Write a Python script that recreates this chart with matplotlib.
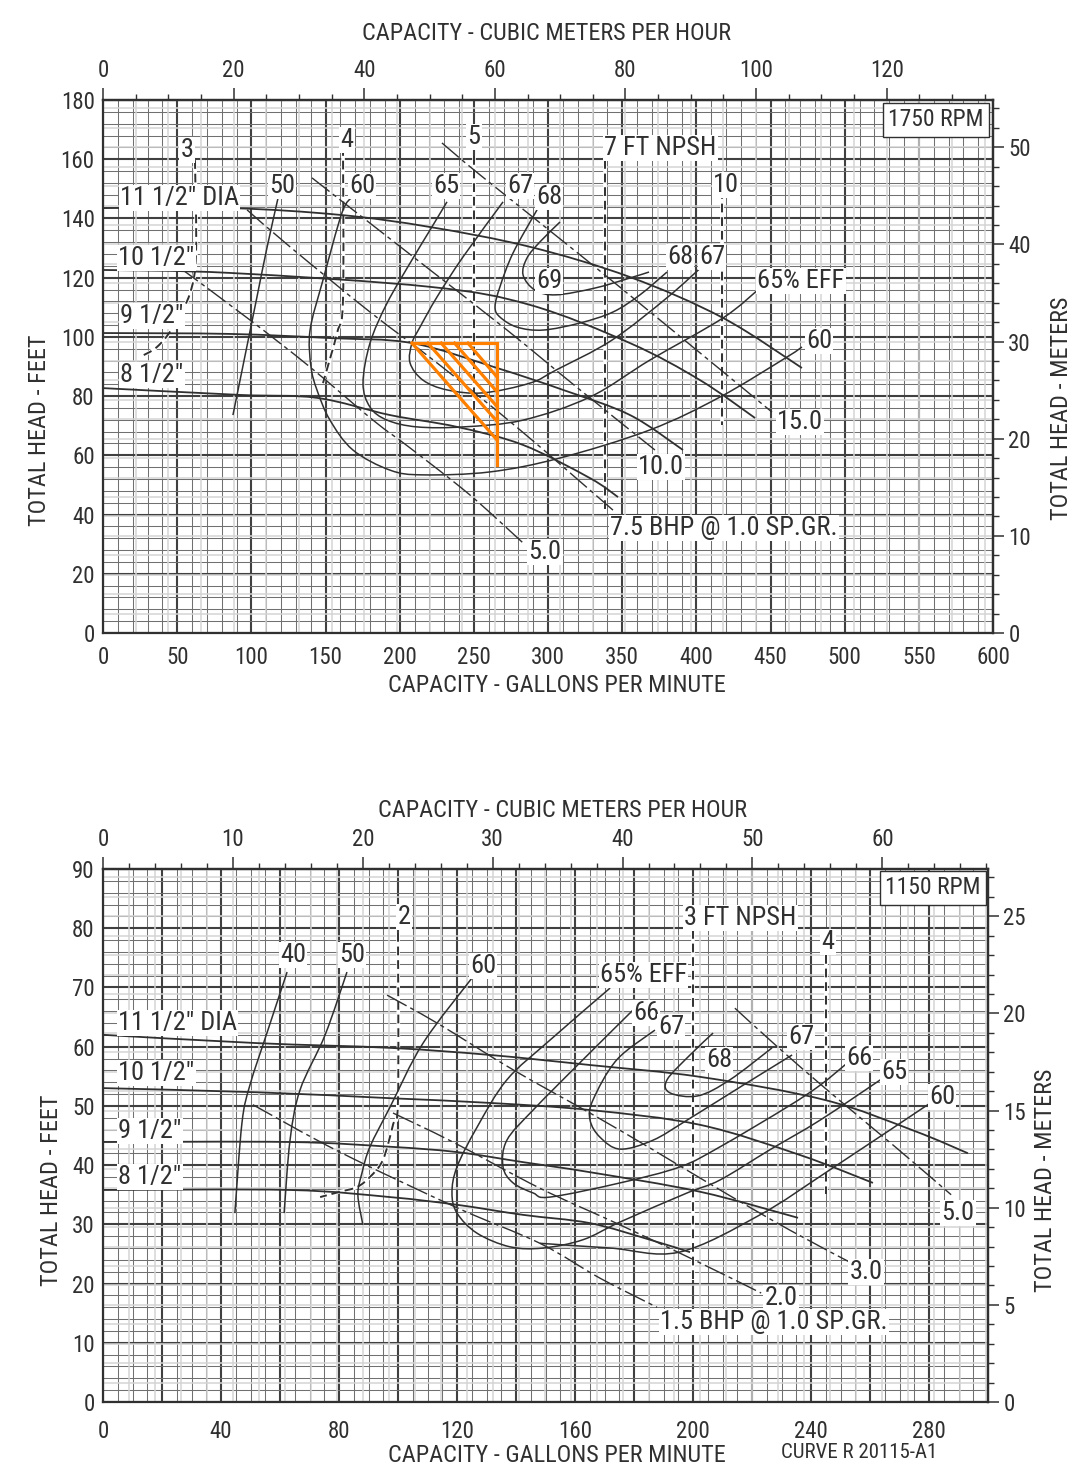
import numpy as np
import matplotlib
matplotlib.use("Agg")
import matplotlib.pyplot as plt
from matplotlib.path import Path
from matplotlib.patches import PathPatch
from matplotlib.ticker import MultipleLocator, FixedLocator, FuncFormatter

plt.rcParams['font.family'] = ['Roboto Condensed', 'Liberation Sans Narrow',
                               'DejaVu Sans Condensed', 'Roboto', 'DejaVu Sans']

INK = '#303030'
ORANGE = '#ff8000'
GPM_PER_M3H = 4.4029
FT_PER_M = 3.2808
W, H = 1085, 1471

# ================= 1750 RPM (top chart) =================
top_rpm = "1750 RPM"
top_x_labels = [0, 50, 100, 150, 200, 250, 300, 350, 400, 450, 500, 550, 600]
top_m3h_labels = [0, 20, 40, 60, 80, 100, 120]
top_m_labels = [0, 10, 20, 30, 40, 50]
# impeller diameter curves (capacity gpm, head ft)
top_d115_q = [0, 85.6, 159.8, 220.5, 287.9, 355.3, 418.0, 471.2]
top_d115_h = [143.5, 143.5, 141.2, 137.1, 130.4, 120.2, 106.4, 89.5]
top_d105_q = [0, 85.6, 220.5, 287.9, 355.3, 402.5, 439.6]
top_d105_h = [122.6, 121.6, 116.9, 110.8, 97.9, 85.4, 72.6]
top_d95_q = [0, 85.6, 153.0, 208.3, 265.6, 310.1, 355.3, 391.0]
top_d95_h = [101.3, 101.0, 99.6, 97.9, 89.5, 82.1, 73.6, 61.8]
top_d85_q = [0, 92.4, 144.3, 193.5, 238.7, 283.2, 328.3, 347.2]
top_d85_h = [82.7, 80.4, 79.4, 73.6, 69.6, 63.5, 52.3, 45.9]
# efficiency curves
top_e50_q = [118.0, 110.5, 103.8, 92.4, 87.6]
top_e50_h = [146.9, 130.0, 113.5, 85.4, 73.6]
top_e60_q = [167.9, 161.1, 148.3, 139.6, 140.2, 144.3, 153.0, 168.5, 193.5, 215.7, 260.9, 308.1, 368.8, 416.0, 461.1, 471.2]
top_e60_h = [147.2, 141.9, 119.2, 102.3, 90.0, 82.0, 71.9, 61.8, 55.0, 53.4, 54.4, 59.1, 68.6, 79.7, 93.2, 96.6]
top_e65_q = [231.9, 220.5, 208.3, 191.5, 180.0, 175.3, 180.0, 191.5, 211.7, 242.7, 283.2, 328.3, 368.8, 418.0, 442.9]
top_e65_h = [145.6, 136.1, 126.0, 111.4, 97.9, 84.4, 76.3, 71.9, 69.6, 69.6, 71.9, 79.7, 92.2, 106.4, 116.5]
top_e67_q = [269.7, 242.7, 225.2, 213.7, 208.3, 207.0, 215.7, 231.9, 256.2, 287.9, 305.4, 343.1, 380.9, 407.2]
top_e67_h = [145.6, 127.0, 113.5, 103.3, 97.9, 91.2, 85.4, 82.1, 81.1, 84.4, 88.8, 98.9, 113.5, 125.3]
top_e68_q = [292.6, 276.4, 267.6, 264.3, 267.6, 279.1, 296.6, 321.6, 343.8, 362.0, 380.2]
top_e68_h = [142.9, 128.3, 116.9, 110.1, 106.7, 103.3, 102.3, 104.7, 108.4, 114.2, 121.9]
top_e69_q = [308.1, 294.6, 285.8, 283.2, 291.2, 305.4, 331.7, 355.3, 368.1]
top_e69_h = [138.8, 132.1, 126.6, 120.9, 115.8, 114.2, 116.5, 119.9, 121.9]
# NPSH required lines
top_n3_q = [62.0, 62.7, 58.7, 47.2, 36.4, 24.9]
top_n3_h = [159.7, 128.3, 114.8, 103.3, 96.6, 93.2]
top_n4_q = [161.8, 161.8, 157.8, 148.3]
top_n4_h = [164.1, 112.5, 101.3, 84.4]
top_n5_q = [250.0, 250.0]
top_n5_h = [161.0, 68.0]
top_n7_q = [338.4, 338.4]
top_n7_h = [159.7, 42.0]
top_n10_q = [417.3, 417.3]
top_n10_h = [149.6, 70.2]
# brake horsepower lines
top_b5_q = [51.9, 99.1, 139.6, 182.0, 207.0, 247.4, 283.2]
top_b5_h = [123.3, 105.7, 89.8, 71.9, 62.5, 46.6, 30.4]
top_b75_q = [97.1, 126.1, 180.0, 225.2, 281.1, 343.8]
top_b75_h = [142.9, 130.4, 108.4, 91.2, 68.6, 41.5]
top_b10_q = [140.9, 168.5, 220.5, 272.4, 321.6, 372.1]
top_b10_h = [153.7, 142.9, 122.6, 102.3, 82.1, 61.8]
top_b15_q = [228.5, 254.2, 321.6, 375.5, 451.0]
top_b15_h = [165.5, 154.7, 127.7, 105.7, 74.6]
# orange highlighted operating region
tri_q = [208.3, 265.6, 265.6, 208.3]
tri_h = [97.9, 97.9, 56.7, 97.9]
tri_hyp_end_h = 65.2
hatch_start_q = [219.0, 228.0, 237.0, 246.0]
hatch_end_h = [71.5, 76.5, 81.5, 86.5]

# ================= 1150 RPM (bottom chart) =================
bot_rpm = "1150 RPM"
bot_x_labels = [0, 40, 80, 120, 160, 200, 240, 280]
bot_m3h_labels = [0, 10, 20, 30, 40, 50, 60]
bot_m_labels = [0, 5, 10, 15, 20, 25]
bot_d115_q = [0, 52.2, 97.3, 131.2, 165.1, 202.4, 244.7, 274.9, 293.2]
bot_d115_h = [62.0, 60.6, 59.8, 58.6, 56.9, 54.9, 51.0, 45.8, 42.0]
bot_d105_q = [0, 52.2, 97.3, 131.2, 165.1, 202.4, 236.3, 261.0]
bot_d105_h = [53.0, 52.3, 51.3, 50.5, 49.3, 46.8, 41.7, 37.0]
bot_d95_q = [0, 63.4, 97.3, 120.0, 142.4, 165.1, 202.4, 235.6]
bot_d95_h = [43.9, 43.9, 43.1, 42.2, 40.5, 38.8, 35.5, 31.1]
bot_d85_q = [0, 63.4, 97.3, 120.0, 142.4, 165.1, 185.4, 199.0]
bot_d85_h = [35.8, 35.8, 34.6, 33.3, 31.6, 30.2, 27.4, 25.3]
bot_e40_q = [62.4, 55.9, 49.8, 47.1, 44.7]
bot_e40_h = [72.6, 62.8, 53.5, 47.1, 31.9]
bot_e50_q = [82.7, 75.3, 66.8, 63.4, 61.4]
bot_e50_h = [72.6, 62.0, 52.7, 44.2, 31.9]
bot_e60a_q = [125.4, 108.5, 97.3, 90.5, 87.8, 86.4, 88.1]
bot_e60a_h = [71.8, 60.6, 49.8, 43.1, 38.7, 35.0, 29.9]
bot_e60b_q = [148.1, 171.9, 195.3, 222.7, 246.4, 282.0]
bot_e60b_h = [26.8, 26.0, 25.3, 31.6, 39.2, 51.0]
bot_e65_q = [171.9, 151.5, 136.9, 126.8, 120.0, 118.3, 120.0, 126.8, 138.0, 149.2, 162.7, 175.3, 198.0, 209.2, 226.1, 243.1, 264.4]
bot_e65_h = [69.9, 61.1, 54.4, 46.4, 39.7, 35.3, 31.9, 28.5, 26.2, 26.0, 27.4, 30.4, 35.3, 37.5, 42.6, 47.6, 54.7]
bot_e66_q = [179.7, 162.7, 145.8, 136.9, 135.6, 139.0, 145.8, 151.5, 175.3, 195.6, 209.2, 231.9, 243.1, 252.2]
bot_e66_h = [66.2, 57.8, 49.3, 44.2, 39.7, 37.0, 35.3, 34.6, 37.0, 39.7, 43.1, 49.8, 53.5, 57.2]
bot_e67_q = [187.1, 174.2, 166.1, 165.1, 168.5, 175.3, 186.4, 198.0, 218.3, 233.6]
bot_e67_h = [62.8, 57.8, 51.0, 47.6, 44.7, 42.7, 44.2, 47.6, 53.9, 58.6]
bot_e68_q = [206.8, 199.0, 191.2, 192.2, 201.7, 212.5, 226.8]
bot_e68_h = [62.3, 58.6, 54.4, 52.2, 51.7, 54.4, 59.8]
bot_n2_q = [100.0, 100.0, 98.3, 94.9, 90.5, 86.1, 80.3, 73.6]
bot_n2_h = [79.2, 51.0, 46.8, 40.9, 38.0, 36.3, 35.5, 34.6]
bot_n3_q = [200.0, 200.0]
bot_n3_h = [79.7, 20.6]
bot_n4_q = [245.0, 245.0]
bot_n4_h = [75.5, 35.1]
bot_b15_q = [50.8, 80.3, 120.0, 148.1, 168.5, 187.8]
bot_b15_h = [50.2, 42.2, 32.8, 26.8, 20.9, 16.0]
bot_b20_q = [98.3, 118.6, 148.1, 175.3, 200.3, 223.1]
bot_b20_h = [48.8, 43.9, 36.1, 29.9, 24.0, 18.4]
bot_b30_q = [96.3, 113.2, 139.0, 166.1, 186.4, 209.2, 232.9, 253.2]
bot_b30_h = [68.7, 64.0, 56.1, 48.5, 42.6, 35.8, 29.0, 23.6]
bot_b50_q = [214.2, 228.8, 246.4, 268.5, 287.5]
bot_b50_h = [66.5, 59.9, 52.3, 43.1, 35.0]


def fxy(x, y):
    return x / W, 1 - y / H


def smooth_path(xs, ys):
    pts = np.column_stack([xs, ys]).astype(float)
    n = len(pts)
    verts = [pts[0]]
    codes = [Path.MOVETO]
    if n == 2:
        verts.append(pts[1]); codes.append(Path.LINETO)
        return Path(verts, codes)
    for i in range(n - 1):
        p0 = pts[i - 1] if i > 0 else pts[i]
        p1, p2 = pts[i], pts[i + 1]
        p3 = pts[i + 2] if i + 2 < n else pts[i + 1]
        verts += [p1 + (p2 - p0) / 6.0, p2 - (p3 - p1) / 6.0, p2]
        codes += [Path.CURVE4] * 3
    return Path(verts, codes)


def curve(ax, q, h, lw=1.1, ls='-', color=INK, z=3):
    ax.add_patch(PathPatch(smooth_path(q, h), fill=False, lw=lw, ls=ls,
                           edgecolor=color, zorder=z, capstyle='butt'))


def npsh(ax, q, h):
    ax.add_patch(PathPatch(smooth_path(q, h), fill=False, lw=2.6,
                           edgecolor='white', zorder=2.5))
    curve(ax, q, h, lw=1.4, ls=(0, (4.5, 2.5)), z=3)


def bhp(ax, q, h):
    curve(ax, q, h, lw=1.0, ls=(0, (16, 3, 3, 3)), z=3)


def label(x, y, s, size=19, ha='center', box=True):
    kw = dict(fontsize=size, color=INK, ha=ha, va='center', zorder=10)
    if box:
        kw['bbox'] = dict(boxstyle='square,pad=0.05', fc='white', ec='none')
    fig.text(*fxy(x, y), s, **kw)


TICK = 16.5


def setup_axes(rect, xmax, ymax, xmaj, xmin, ymaj, ymin, xlabels,
               m3_labels, m3_min, m_labels, m_min, light_m3, light_m, xpad):
    ax = fig.add_axes(rect)
    ax.set_xlim(0, xmax)
    ax.set_ylim(0, ymax)
    ax.xaxis.set_major_locator(MultipleLocator(xmaj))
    ax.xaxis.set_minor_locator(MultipleLocator(xmin))
    ax.yaxis.set_major_locator(MultipleLocator(ymaj))
    ax.yaxis.set_minor_locator(MultipleLocator(ymin))
    ax.xaxis.set_major_formatter(FuncFormatter(
        lambda v, p: f"{v:.0f}" if round(v) in xlabels else ""))
    ax.grid(which='minor', color='#707070', lw=0.75, zorder=1)
    ax.grid(which='major', color='#404040', lw=1.5, zorder=1.2)
    ax.set_axisbelow(True)
    # faint metric grid
    for v in np.arange(light_m3, xmax / GPM_PER_M3H, light_m3):
        ax.axvline(v * GPM_PER_M3H, color='#d4d4d4', lw=1.1, zorder=0.9)
    for v in np.arange(light_m, ymax / FT_PER_M, light_m):
        ax.axhline(v * FT_PER_M, color='#d4d4d4', lw=1.1, zorder=0.9)
    ax.tick_params(which='both', length=0, labelsize=TICK, colors=INK)
    ax.tick_params(axis='x', pad=xpad)
    ax.tick_params(axis='y', pad=6)
    for sp in ax.spines.values():
        sp.set_color(INK)
        sp.set_linewidth(1.6)
    top = ax.secondary_xaxis('top', functions=(lambda q: q / GPM_PER_M3H,
                                               lambda m: m * GPM_PER_M3H))
    top.xaxis.set_major_locator(FixedLocator(m3_labels))
    top.xaxis.set_minor_locator(FixedLocator(
        list(np.arange(0, xmax / GPM_PER_M3H, m3_min))))
    top.tick_params(which='major', length=9, width=1.1, colors=INK, labelsize=TICK, pad=4)
    top.tick_params(which='minor', length=4.5, width=1.0, colors=INK)
    right = ax.secondary_yaxis('right', functions=(lambda f: f / FT_PER_M,
                                                   lambda m: m * FT_PER_M))
    right.yaxis.set_major_locator(FixedLocator(m_labels))
    right.yaxis.set_minor_locator(FixedLocator(
        list(np.arange(0, ymax / FT_PER_M, m_min))))
    right.tick_params(which='major', length=8, width=1.1, colors=INK, labelsize=TICK, pad=3)
    right.tick_params(which='minor', length=4.5, width=1.0, colors=INK)
    for s in (top, right):
        for sp in s.spines.values():
            sp.set_color(INK)
            sp.set_linewidth(1.6)
    return ax


fig = plt.figure(figsize=(W / 100, H / 100), dpi=100, facecolor='white')

# ---------------- top chart ----------------
axT = setup_axes([103 / W, 1 - 633 / H, 890 / W, 533 / H], 600, 180, 50, 10, 20, 4,
                 top_x_labels, top_m3h_labels, 5, top_m_labels, 2, 5, 2, xpad=9)
for q, h in [(top_d115_q, top_d115_h), (top_d105_q, top_d105_h),
             (top_d95_q, top_d95_h), (top_d85_q, top_d85_h)]:
    curve(axT, q, h, lw=1.3)
for q, h in [(top_e50_q, top_e50_h), (top_e60_q, top_e60_h), (top_e65_q, top_e65_h),
             (top_e67_q, top_e67_h), (top_e68_q, top_e68_h), (top_e69_q, top_e69_h)]:
    curve(axT, q, h, lw=1.1)
for q, h in [(top_n3_q, top_n3_h), (top_n4_q, top_n4_h), (top_n5_q, top_n5_h),
             (top_n7_q, top_n7_h), (top_n10_q, top_n10_h)]:
    npsh(axT, q, h)
for q, h in [(top_b5_q, top_b5_h), (top_b75_q, top_b75_h),
             (top_b10_q, top_b10_h), (top_b15_q, top_b15_h)]:
    bhp(axT, q, h)
# orange region
axT.plot(tri_q[:3], tri_h[:3], color=ORANGE, lw=2.3, zorder=6, solid_joinstyle='miter')
axT.plot([tri_q[0], tri_q[1]], [tri_h[0], tri_hyp_end_h], color=ORANGE, lw=2.3, zorder=6)
for qs, he in zip(hatch_start_q, hatch_end_h):
    axT.plot([qs, tri_q[1]], [tri_h[0], he], color=ORANGE, lw=2.3, zorder=6)

# ---------------- bottom chart ----------------
axB = setup_axes([103 / W, 1 - 1402 / H, 885 / W, 533 / H], 300, 90, 20, 5, 10, 2,
                 bot_x_labels, bot_m3h_labels, 2, bot_m_labels, 1, 2, 1, xpad=13)
for q, h in [(bot_d115_q, bot_d115_h), (bot_d105_q, bot_d105_h),
             (bot_d95_q, bot_d95_h), (bot_d85_q, bot_d85_h)]:
    curve(axB, q, h, lw=1.3)
for q, h in [(bot_e40_q, bot_e40_h), (bot_e50_q, bot_e50_h), (bot_e60a_q, bot_e60a_h),
             (bot_e60b_q, bot_e60b_h), (bot_e65_q, bot_e65_h), (bot_e66_q, bot_e66_h),
             (bot_e67_q, bot_e67_h), (bot_e68_q, bot_e68_h)]:
    curve(axB, q, h, lw=1.1)
for q, h in [(bot_n2_q, bot_n2_h), (bot_n3_q, bot_n3_h), (bot_n4_q, bot_n4_h)]:
    npsh(axB, q, h)
for q, h in [(bot_b15_q, bot_b15_h), (bot_b20_q, bot_b20_h),
             (bot_b30_q, bot_b30_h), (bot_b50_q, bot_b50_h)]:
    bhp(axB, q, h)

# ---------------- axis titles ----------------
TS = 17.5
label(546, 33, "CAPACITY - CUBIC METERS PER HOUR", TS, box=False)
label(557, 685, "CAPACITY - GALLONS PER MINUTE", TS, box=False)
fig.text(*fxy(40, 430), "TOTAL HEAD - FEET", rotation=90, fontsize=TS, color=INK,
         ha='center', va='center')
fig.text(*fxy(1062, 408), "TOTAL HEAD - METERS", rotation=90, fontsize=TS, color=INK,
         ha='center', va='center')
label(563, 810, "CAPACITY - CUBIC METERS PER HOUR", TS, box=False)
label(557, 1455, "CAPACITY - GALLONS PER MINUTE", TS, box=False)
label(781, 1452, "CURVE R 20115-A1", 15, ha='left', box=False)
fig.text(*fxy(52, 1190), "TOTAL HEAD - FEET", rotation=90, fontsize=TS, color=INK,
         ha='center', va='center')
fig.text(*fxy(1045, 1180), "TOTAL HEAD - METERS", rotation=90, fontsize=TS, color=INK,
         ha='center', va='center')

# RPM boxes
for (x, y, s) in [(936, 120, top_rpm), (933, 888, bot_rpm)]:
    fig.text(*fxy(x, y), s, fontsize=17, color=INK, ha='center', va='center', zorder=10,
             bbox=dict(boxstyle='square,pad=0.22', fc='white', ec=INK, lw=1.0))

# ---------------- in-chart annotations (top) ----------------
LS = 19
label(120, 198, '11 1/2" DIA', LS, ha='left')
label(118, 258, '10 1/2"', LS, ha='left')
label(120, 316, '9 1/2"', LS, ha='left')
label(120, 375, '8 1/2"', LS, ha='left')
label(187, 150, '3', LS)
label(347, 140, '4', LS)
label(474, 137, '5', LS)
label(604, 148, '7 FT NPSH', LS, ha='left')
label(726, 185, '10', LS)
label(282, 186, '50', LS)
label(362, 186, '60', LS)
label(446, 186, '65', LS)
label(520, 186, '67', LS)
label(549, 197, '68', LS)
label(549, 281, '69', LS)
label(680, 257, '68', LS)
label(712, 257, '67', LS)
label(801, 281, '65% EFF', LS)
label(819, 341, '60', LS)
label(800, 422, '15.0', LS)
label(661, 467, '10.0', LS)
label(610, 528, '7.5 BHP @ 1.0 SP.GR.', LS, ha='left')
label(545, 552, '5.0', LS)

# ---------------- in-chart annotations (bottom) ----------------
label(118, 1023, '11 1/2" DIA', LS, ha='left')
label(118, 1073, '10 1/2"', LS, ha='left')
label(118, 1131, '9 1/2"', LS, ha='left')
label(118, 1177, '8 1/2"', LS, ha='left')
label(404, 917, '2', LS)
label(293, 955, '40', LS)
label(352, 955, '50', LS)
label(483, 966, '60', LS)
label(600, 975, '65% EFF', LS, ha='left')
label(646, 1013, '66', LS)
label(671, 1027, '67', LS)
label(684, 918, '3 FT NPSH', LS, ha='left')
label(828, 942, '4', LS)
label(719, 1060, '68', LS)
label(801, 1037, '67', LS)
label(859, 1058, '66', LS)
label(894, 1072, '65', LS)
label(942, 1097, '60', LS)
label(958, 1213, '5.0', LS)
label(866, 1272, '3.0', LS)
label(781, 1298, '2.0', LS)
label(660, 1322, '1.5 BHP @ 1.0 SP.GR.', LS, ha='left')

fig.savefig('out.png', dpi=100, facecolor='white')
